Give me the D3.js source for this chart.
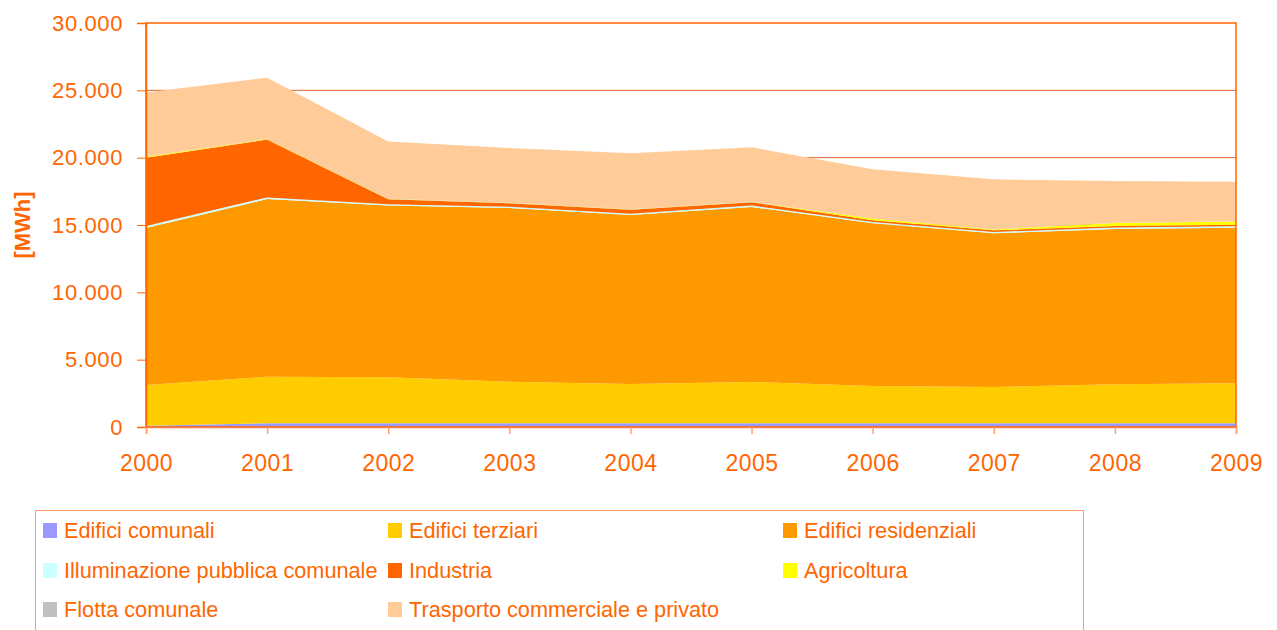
<!DOCTYPE html>
<html>
<head>
<meta charset="utf-8">
<script src="https://cdn.jsdelivr.net/npm/d3@7"></script>
<style>
  body { margin: 0; background: #fff; }
  text { font-family: "Liberation Sans", Arial, sans-serif; fill: #FF6600; }
</style>
</head>
<body>
<svg></svg>
<script>
// years on the x axis
let years = [2000, 2001, 2002, 2003, 2004, 2005, 2006, 2007, 2008, 2009];

// series values [MWh], stacked bottom to top
let edificiComunali   = [100, 270, 270, 270, 270, 270, 270, 270, 270, 270];
let edificiTerziari   = [3020, 3465, 3420, 3085, 2920, 3070, 2775, 2700, 2900, 2975];
let edificiResidenz   = [11660, 13195, 12760, 12905, 12550, 13000, 12085, 11410, 11530, 11555];
let illuminazione     = [150, 120, 100, 100, 100, 110, 100, 100, 110, 100];
let industria         = [5070, 4300, 370, 260, 300, 240, 130, 130, 120, 110];
let agricoltura       = [60, 30, 20, 20, 20, 20, 120, 60, 220, 250];
let flotta            = [10, 10, 10, 10, 10, 10, 10, 10, 10, 10];
let trasporto         = [4770, 4550, 4250, 4070, 4160, 4050, 3650, 3710, 3110, 2950];

let yTicks = [0, 5000, 10000, 15000, 20000, 25000, 30000];

let series = [
  {key: "Edifici comunali", values: edificiComunali, color: "#9999FF"},
  {key: "Edifici terziari", values: edificiTerziari, color: "#FFCC00"},
  {key: "Edifici residenziali", values: edificiResidenz, color: "#FF9900"},
  {key: "Illuminazione pubblica comunale", values: illuminazione, color: "#CCFFFF"},
  {key: "Industria", values: industria, color: "#FF6600"},
  {key: "Agricoltura", values: agricoltura, color: "#FFFF00"},
  {key: "Flotta comunale", values: flotta, color: "#C0C0C0"},
  {key: "Trasporto commerciale e privato", values: trasporto, color: "#FFCC99"}
];

let width = 1277;
let height = 630;
let margin = {left: 146, right: 41, top: 23, bottom: 203};

let svg = d3.select("svg")
    .attr("width", width)
    .attr("height", height);

let x = d3.scaleLinear()
    .domain([2000, 2009])
    .range([margin.left, width - margin.right]);

let y = d3.scaleLinear()
    .domain([0, 30000])
    .range([height - margin.bottom, margin.top]);

// build rows for d3.stack
let table = years.map((yr, i) => {
    let row = {year: yr};
    series.forEach(s => row[s.key] = s.values[i]);
    return row;
});

let stacked = d3.stack().keys(series.map(s => s.key))(table);

let area = d3.area()
    .x(d => x(d.data.year))
    .y0(d => y(d[0]))
    .y1(d => y(d[1]));

// gridlines
svg.append("g")
    .selectAll("line")
    .data(yTicks.filter(t => t > 0 && t < 30000))
    .enter()
    .append("line")
    .attr("x1", margin.left)
    .attr("x2", width - margin.right)
    .attr("y1", d => y(d))
    .attr("y2", d => y(d))
    .attr("stroke", "#D8682A")
    .attr("stroke-width", 1);

// stacked areas
svg.append("g")
    .selectAll("path")
    .data(stacked)
    .enter()
    .append("path")
    .attr("d", area)
    .attr("fill", (d, i) => series[i].color);

// plot frame
svg.append("rect")
    .attr("x", margin.left)
    .attr("y", margin.top)
    .attr("width", width - margin.right - margin.left)
    .attr("height", height - margin.bottom - margin.top)
    .attr("fill", "none")
    .attr("stroke", "#FF6600")
    .attr("stroke-width", 1.5);

let fmt = d3.formatLocale({decimal: ",", thousands: ".", grouping: [3], currency: ["", "€"]}).format(",d");

// y axis
let yAxis = svg.append("g")
    .attr("transform", `translate(${margin.left},0)`)
    .call(d3.axisLeft(y).tickValues(yTicks).tickFormat(fmt).tickSize(9).tickPadding(14));
yAxis.select(".domain").attr("stroke", "#FF6600").attr("stroke-width", 1.5);
yAxis.selectAll(".tick line").attr("stroke", "#FF6600");
yAxis.selectAll("text")
    .attr("fill", "#FF6600")
    .style("font-size", "22px")
    .style("letter-spacing", "0.6px")
    .style("font-family", "Liberation Sans, Arial, sans-serif");

// x axis
let xAxis = svg.append("g")
    .attr("transform", `translate(0,${height - margin.bottom})`)
    .call(d3.axisBottom(x).tickValues(years).tickFormat(d3.format("d")).tickSize(7).tickPadding(21));
xAxis.select(".domain").attr("stroke", "#FF8040").attr("stroke-width", 1.5);
xAxis.selectAll(".tick line").attr("stroke", "#FFA070").attr("stroke-width", 1.5);
xAxis.selectAll("text")
    .attr("fill", "#FF6600")
    .style("font-size", "23px")
    .style("letter-spacing", "0.5px")
    .style("font-family", "Liberation Sans, Arial, sans-serif");

// y axis title
svg.append("text")
    .attr("transform", `translate(30,${(margin.top + height - margin.bottom) / 2}) rotate(-90)`)
    .attr("text-anchor", "middle")
    .style("font-size", "22px")
    .style("font-weight", "bold")
    .text("[MWh]");

// legend
let legend = svg.append("g");
legend.append("rect")
    .attr("x", 35.5)
    .attr("y", 510.5)
    .attr("width", 1048)
    .attr("height", 130)
    .attr("fill", "none")
    .attr("stroke", "#FF9966")
    .attr("stroke-width", 1);

let colX = [43, 388, 783];
let rowY = [530, 570, 609];
let items = legend.selectAll("g.item")
    .data(series)
    .enter()
    .append("g")
    .attr("class", "item")
    .attr("transform", (d, i) => `translate(${colX[i % 3]},${rowY[Math.floor(i / 3)]})`);

items.append("rect")
    .attr("x", 0)
    .attr("y", -7)
    .attr("width", 14)
    .attr("height", 15)
    .attr("fill", d => d.color);

items.append("text")
    .attr("x", 21)
    .attr("y", 8)
    .style("font-size", "21.7px")
    .text(d => d.key);
</script>
</body>
</html>
